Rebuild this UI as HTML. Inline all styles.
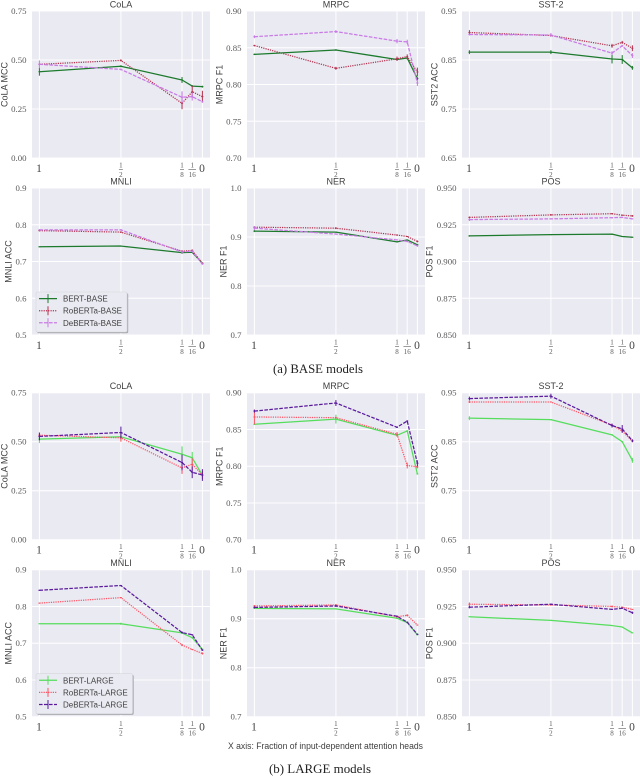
<!DOCTYPE html>
<html lang="en">
<head>
<meta charset="utf-8">
<title>BASE and LARGE model metrics</title>
<style>
html,body{margin:0;padding:0;background:#fff;width:640px;height:776px;overflow:hidden}
svg{display:block;filter:blur(0.3px)}
.sans{font-family:"Liberation Sans",sans-serif}
.serif{font-family:"Liberation Serif",serif}
</style>
</head>
<body>
<svg id="fig" xmlns="http://www.w3.org/2000/svg" width="640" height="776" viewBox="0 0 640 776"></svg>
<script>
const fractions = [1, 0.5, 0.125, 0.0625, 0];
const fractionNumerators = ['1', '1', '1', '1', '0'];
const fractionDenominators = ['', '2', '8', '16', ''];

const colaTicks = ['0.00', '0.25', '0.50', '0.75'];
const mrpcTicks = ['0.70', '0.75', '0.80', '0.85', '0.90'];
const sstTicks = ['0.65', '0.75', '0.85', '0.95'];
const mnliTicks = ['0.5', '0.6', '0.7', '0.8', '0.9'];
const nerTicks = ['0.7', '0.8', '0.9', '1.0'];
const posTicks = ['0.850', '0.875', '0.900', '0.925', '0.950'];

const baseColaBert = [0.44, 0.468, 0.398, 0.367, 0.364];
const baseColaRo = [0.478, 0.498, 0.279, 0.338, 0.313];
const baseColaDe = [0.478, 0.452, 0.31, 0.313, 0.287];
const baseColaBertErr = [0.02, 0.005, 0.015, 0.005, 0.005];
const baseColaRoErr = [0.005, 0.005, 0.03, 0.03, 0.03];
const baseColaDeErr = [0.02, 0.005, 0.03, 0.02, 0.005];

const baseMrpcBert = [0.841, 0.847, 0.834, 0.836, 0.808];
const baseMrpcRo = [0.853, 0.822, 0.835, 0.838, 0.817];
const baseMrpcDe = [0.865, 0.872, 0.859, 0.858, 0.802];
const baseMrpcBertErr = [0.001, 0.001, 0.002, 0.002, 0.002];
const baseMrpcRoErr = [0.001, 0.002, 0.003, 0.003, 0.006];
const baseMrpcDeErr = [0.002, 0.002, 0.003, 0.003, 0.004];

const baseSstBert = [0.866, 0.866, 0.852, 0.851, 0.834];
const baseSstRo = [0.906, 0.9, 0.879, 0.886, 0.874];
const baseSstDe = [0.902, 0.901, 0.864, 0.879, 0.859];
const baseSstBertErr = [0.004, 0.004, 0.009, 0.009, 0.004];
const baseSstRoErr = [0.005, 0.002, 0.004, 0.003, 0.006];
const baseSstDeErr = [0.002, 0.004, 0.004, 0.002, 0.005];

const baseMnliBert = [0.74, 0.742, 0.724, 0.725, 0.695];
const baseMnliRo = [0.784, 0.78, 0.728, 0.73, 0.695];
const baseMnliDe = [0.786, 0.786, 0.726, 0.728, 0.693];
const baseMnliBertErr = [0.001, 0.001, 0.003, 0.002, 0.002];
const baseMnliRoErr = [0.002, 0.002, 0.003, 0.003, 0.002];
const baseMnliDeErr = [0.002, 0.002, 0.004, 0.003, 0.002];

const baseNerBert = [0.912, 0.91, 0.89, 0.894, 0.884];
const baseNerRo = [0.92, 0.918, 0.904, 0.901, 0.891];
const baseNerDe = [0.918, 0.906, 0.894, 0.891, 0.882];
const baseNerBertErr = [0.002, 0.001, 0.001, 0.001, 0.002];
const baseNerRoErr = [0.002, 0.002, 0.001, 0.001, 0.002];
const baseNerDeErr = [0.004, 0.001, 0.001, 0.002, 0.002];

const basePosBert = [0.9174, 0.9183, 0.9186, 0.917, 0.9165];
const basePosRo = [0.93, 0.9317, 0.9325, 0.9315, 0.931];
const basePosDe = [0.9285, 0.929, 0.9298, 0.93, 0.929];
const basePosBertErr = [0.0005, 0.0003, 0.0003, 0.0003, 0.0003];
const basePosRoErr = [0.0006, 0.0006, 0.0004, 0.0003, 0.0006];
const basePosDeErr = [0.001, 0.0003, 0.0003, 0.0003, 0.0003];

const largeColaBert = [0.513, 0.525, 0.436, 0.418, 0.329];
const largeColaRo = [0.533, 0.52, 0.366, 0.385, 0.33];
const largeColaDe = [0.527, 0.547, 0.394, 0.344, 0.33];
const largeColaBertErr = [0.02, 0.02, 0.04, 0.03, 0.01];
const largeColaRoErr = [0.01, 0.02, 0.03, 0.03, 0.02];
const largeColaDeErr = [0.02, 0.03, 0.04, 0.03, 0.03];

const largeMrpcBert = [0.857, 0.864, 0.842, 0.848, 0.7895];
const largeMrpcRo = [0.867, 0.866, 0.8435, 0.801, 0.799];
const largeMrpcDe = [0.875, 0.886, 0.853, 0.8615, 0.804];
const largeMrpcBertErr = [0.001, 0.006, 0.002, 0.001, 0.001];
const largeMrpcRoErr = [0.01, 0.001, 0.003, 0.004, 0.002];
const largeMrpcDeErr = [0.002, 0.004, 0.001, 0.001, 0.004];

const largeSstBert = [0.898, 0.895, 0.864, 0.85, 0.812];
const largeSstRo = [0.931, 0.931, 0.884, 0.872, 0.851];
const largeSstDe = [0.938, 0.943, 0.883, 0.876, 0.852];
const largeSstBertErr = [0.004, 0.001, 0.001, 0.001, 0.005];
const largeSstRoErr = [0.002, 0.001, 0.002, 0.002, 0.002];
const largeSstDeErr = [0.004, 0.005, 0.004, 0.008, 0.003];

const largeMnliBert = [0.753, 0.753, 0.728, 0.715, 0.683];
const largeMnliRo = [0.809, 0.824, 0.695, 0.683, 0.672];
const largeMnliDe = [0.844, 0.857, 0.729, 0.723, 0.681];
const largeMnliBertErr = [0.001, 0.003, 0.001, 0.002, 0.002];
const largeMnliRoErr = [0.001, 0.001, 0.003, 0.001, 0.003];
const largeMnliDeErr = [0.001, 0.001, 0.003, 0.001, 0.002];

const largeNerBert = [0.921, 0.92, 0.901, 0.892, 0.867];
const largeNerRo = [0.926, 0.928, 0.904, 0.907, 0.887];
const largeNerDe = [0.923, 0.926, 0.905, 0.893, 0.868];
const largeNerBertErr = [0.001, 0.001, 0.001, 0.001, 0.001];
const largeNerRoErr = [0.002, 0.002, 0.002, 0.002, 0.001];
const largeNerDeErr = [0.002, 0.002, 0.001, 0.001, 0.001];

const largePosBert = [0.918, 0.9155, 0.912, 0.911, 0.907];
const largePosRo = [0.9265, 0.926, 0.925, 0.9245, 0.923];
const largePosDe = [0.9245, 0.9265, 0.923, 0.9238, 0.9207];
const largePosBertErr = [0.0003, 0.0002, 0.0002, 0.0002, 0.0002];
const largePosRoErr = [0.0012, 0.0002, 0.0006, 0.0003, 0.0003];
const largePosDeErr = [0.0008, 0.0003, 0.0003, 0.0003, 0.0008];

const baseLabels = ['BERT-BASE', 'RoBERTa-BASE', 'DeBERTa-BASE'];
const largeLabels = ['BERT-LARGE', 'RoBERTa-LARGE', 'DeBERTa-LARGE'];
const baseColors = ['#1c7a2c', '#b5324f', '#c97ae6'];
const largeColors = ['#55dd5c', '#ff5263', '#5a1a9e'];
const dashStyles = ['', '1.2 1.1', '3.6 1.4'];
const seriesKeys = ['bert', 'roberta', 'deberta'];

const panels = [
  {id:'base-cola', title:'CoLA', ylabel:'CoLA MCC', col:0, top:11, lx:4.5, ticks:colaTicks, set:'base', s:[baseColaBert,baseColaRo,baseColaDe], e:[baseColaBertErr,baseColaRoErr,baseColaDeErr]},
  {id:'base-mrpc', title:'MRPC', ylabel:'MRPC F1', col:1, top:11, lx:219.5, ticks:mrpcTicks, set:'base', s:[baseMrpcBert,baseMrpcRo,baseMrpcDe], e:[baseMrpcBertErr,baseMrpcRoErr,baseMrpcDeErr]},
  {id:'base-sst', title:'SST-2', ylabel:'SST2 ACC', col:2, top:11, lx:434.5, ticks:sstTicks, set:'base', s:[baseSstBert,baseSstRo,baseSstDe], e:[baseSstBertErr,baseSstRoErr,baseSstDeErr]},
  {id:'base-mnli', title:'MNLI', ylabel:'MNLI ACC', col:0, top:188, lx:8.5, ticks:mnliTicks, set:'base', legend:true, s:[baseMnliBert,baseMnliRo,baseMnliDe], e:[baseMnliBertErr,baseMnliRoErr,baseMnliDeErr]},
  {id:'base-ner', title:'NER', ylabel:'NER F1', col:1, top:188, lx:223.5, ticks:nerTicks, set:'base', s:[baseNerBert,baseNerRo,baseNerDe], e:[baseNerBertErr,baseNerRoErr,baseNerDeErr]},
  {id:'base-pos', title:'POS', ylabel:'POS F1', col:2, top:188, lx:429.5, ticks:posTicks, set:'base', s:[basePosBert,basePosRo,basePosDe], e:[basePosBertErr,basePosRoErr,basePosDeErr]},
  {id:'large-cola', title:'CoLA', ylabel:'CoLA MCC', col:0, top:392.7, lx:4.5, ticks:colaTicks, set:'large', s:[largeColaBert,largeColaRo,largeColaDe], e:[largeColaBertErr,largeColaRoErr,largeColaDeErr]},
  {id:'large-mrpc', title:'MRPC', ylabel:'MRPC F1', col:1, top:392.7, lx:219.5, ticks:mrpcTicks, set:'large', s:[largeMrpcBert,largeMrpcRo,largeMrpcDe], e:[largeMrpcBertErr,largeMrpcRoErr,largeMrpcDeErr]},
  {id:'large-sst', title:'SST-2', ylabel:'SST2 ACC', col:2, top:392.7, lx:434.5, ticks:sstTicks, set:'large', s:[largeSstBert,largeSstRo,largeSstDe], e:[largeSstBertErr,largeSstRoErr,largeSstDeErr]},
  {id:'large-mnli', title:'MNLI', ylabel:'MNLI ACC', col:0, top:569.7, lx:8.5, ticks:mnliTicks, set:'large', legend:true, s:[largeMnliBert,largeMnliRo,largeMnliDe], e:[largeMnliBertErr,largeMnliRoErr,largeMnliDeErr]},
  {id:'large-ner', title:'NER', ylabel:'NER F1', col:1, top:569.7, lx:223.5, ticks:nerTicks, set:'large', s:[largeNerBert,largeNerRo,largeNerDe], e:[largeNerBertErr,largeNerRoErr,largeNerDeErr]},
  {id:'large-pos', title:'POS', ylabel:'POS F1', col:2, top:569.7, lx:429.5, ticks:posTicks, set:'large', s:[largePosBert,largePosRo,largePosDe], e:[largePosBertErr,largePosRoErr,largePosDeErr]}
];

const svg = document.getElementById('fig');
const NS = 'http://www.w3.org/2000/svg';
const colLefts = [32, 247, 462];
const PW = 178, PH = 147;
const TICK_GREY = '#5a5a5a', LABEL_GREY = '#3f3f3f';

function make(tag, attrs, parent, txt) {
  const n = document.createElementNS(NS, tag);
  for (const k in attrs) n.setAttribute(k, attrs[k]);
  if (txt !== undefined) n.textContent = txt;
  parent.appendChild(n);
  return n;
}

function drawPanel(p) {
  const left = colLefts[p.col], top = p.top, bottom = top + PH;
  const tickVals = p.ticks.map(Number);
  const yMin = Math.min.apply(null, tickVals), yMax = Math.max.apply(null, tickVals);
  const xS = f => left + 7.4 + (1 - f) * 163;
  const yS = v => bottom - (v - yMin) / (yMax - yMin) * PH;
  const colors = p.set === 'base' ? baseColors : largeColors;
  const labels = p.set === 'base' ? baseLabels : largeLabels;

  const g = make('g', {}, svg);
  
  

  const bg = make('rect', {x:left, y:top, width:PW, height:PH, fill:'#eaeaf2'}, g);
  
  

  p.ticks.forEach((t, i) => {
    const y = yS(tickVals[i]);
    const line = make('line', {x1:left, x2:left + PW, y1:y, y2:y, stroke:'#fff', 'stroke-width':1}, g);
    
    
    const lab = make('text', {x:left - 5.5, y:y + 3, 'text-anchor':'end', 'font-size':8.8, fill:TICK_GREY, class:'serif'}, g, t);
    
    
  });

  fractions.forEach((f, i) => {
    const x = xS(f);
    const line = make('line', {x1:x, x2:x, y1:top, y2:bottom, stroke:'#fff', 'stroke-width':1}, g);
    
    
    const den = fractionDenominators[i];
    if (den) {
      const num = make('text', {x:x, y:bottom + 9.4, 'text-anchor':'middle', 'font-size':7, fill:TICK_GREY, class:'serif'}, g, fractionNumerators[i]);
      
      
      const bar = make('line', {x1:x - (den.length > 1 ? 3.8 : 2), x2:x + (den.length > 1 ? 3.8 : 2), y1:bottom + 11.6, y2:bottom + 11.6, stroke:TICK_GREY, 'stroke-width':0.6}, g);
      
      
      const d = make('text', {x:x, y:bottom + 19, 'text-anchor':'middle', 'font-size':7, fill:TICK_GREY, class:'serif'}, g, den);
      
      
    } else {
      const whole = make('text', {x:x - 0.4, y:bottom + 14, 'text-anchor':'middle', 'font-size':11.5, fill:'#444', class:'serif'}, g, fractionNumerators[i]);
      
      
    }
  });

  p.s.forEach((vals, si) => {
    const sg = make('g', {}, g);
    
    
    const pts = vals.map((v, i) => xS(fractions[i]).toFixed(2) + ',' + yS(v).toFixed(2)).join(' ');
    const attrs = {points:pts, fill:'none', stroke:colors[si], 'stroke-width':1.25, 'stroke-linejoin':'round'};
    if (dashStyles[si]) attrs['stroke-dasharray'] = dashStyles[si];
    const line = make('polyline', attrs, sg);
    
    
    vals.forEach((v, i) => {
      const err = p.e[si][i];
      const x = xS(fractions[i]);
      const bar = make('line', {x1:x, x2:x, y1:yS(v - err), y2:yS(v + err), stroke:colors[si], 'stroke-width':1}, sg);
      
      
      const mark = make('line', {x1:x - 1, x2:x + 1, y1:yS(v), y2:yS(v), stroke:colors[si], 'stroke-width':1}, sg);
      
      
    });
  });

  const title = make('text', {x:left + 89, y:top - 3.5, 'text-anchor':'middle', 'font-size':9, fill:LABEL_GREY, class:'sans'}, g, p.title);
  
  

  const cy = top + PH / 2;
  const yl = make('text', {x:0, y:0, 'text-anchor':'middle', 'font-size':9, fill:LABEL_GREY, class:'sans', transform:'translate(' + (p.lx + 3) + ' ' + cy + ') rotate(-90)'}, g, p.ylabel);
  
  

  if (p.legend) {
    const w = p.set === 'base' ? 91 : 96.5;
    const lx = 36, ly = bottom - 43;
    const lg = make('g', {}, g);
    
    
    const shadow = make('rect', {x:lx + 1.2, y:ly + 1.2, width:w, height:40, rx:1.5, fill:'#a9a9ad'}, lg);
    
    
    const box = make('rect', {x:lx, y:ly, width:w, height:40, rx:1.5, fill:'#eaeaf2', stroke:'#d5d5dc', 'stroke-width':0.6}, lg);
    
    
    labels.forEach((lab, i) => {
      const ey = ly + 6.6 + i * 12.1;
      const a = {x1:lx + 3, x2:lx + 21, y1:ey, y2:ey, stroke:colors[i], 'stroke-width':1.25};
      if (dashStyles[i]) a['stroke-dasharray'] = dashStyles[i];
      const key = make('line', a, lg);
      
      
      const tick = make('line', {x1:lx + 12, x2:lx + 12, y1:ey - 4.5, y2:ey + 4.5, stroke:colors[i], 'stroke-width':1}, lg);
      
      
      const txt = make('text', {x:lx + 27, y:ey + 3, 'font-size':8, fill:LABEL_GREY, class:'sans'}, lg, lab);
      
      
    });
  }
}

panels.forEach(drawPanel);

const capA = make('text', {x:318, y:373, 'text-anchor':'middle', 'font-size':12.4, fill:'#222', class:'serif', textLength:90, lengthAdjust:'spacingAndGlyphs'}, svg, '(a) BASE models');



const capB = make('text', {x:320, y:773, 'text-anchor':'middle', 'font-size':12.4, fill:'#222', class:'serif', textLength:102, lengthAdjust:'spacingAndGlyphs'}, svg, '(b) LARGE models');



const xNote = make('text', {x:325.5, y:749, 'text-anchor':'middle', 'font-size':9, fill:'#3f3f3f', class:'sans', textLength:195, lengthAdjust:'spacingAndGlyphs'}, svg, 'X axis: Fraction of input-dependent attention heads');


</script>
</body>
</html>
